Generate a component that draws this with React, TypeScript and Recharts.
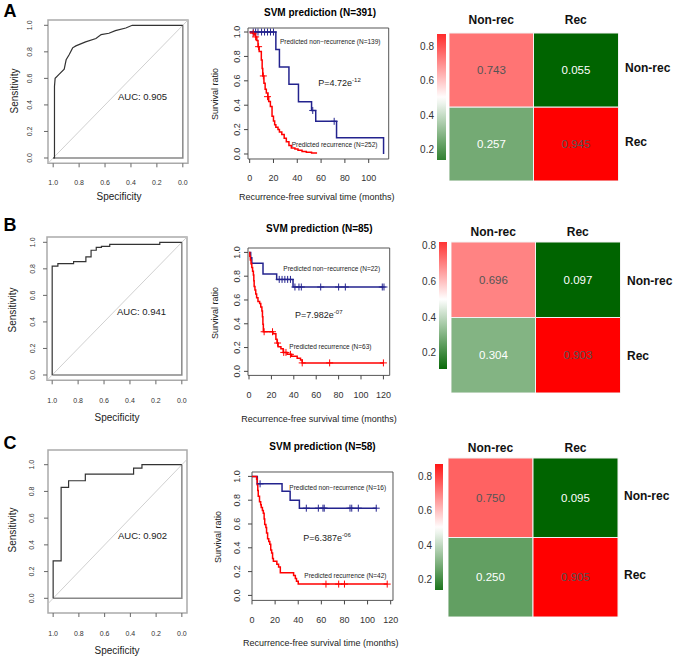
import React from "react";
import {
  ComposedChart, Line, Scatter, XAxis, YAxis, ReferenceArea, ReferenceLine,
  BarChart, Bar, Cell, LabelList,
} from "recharts";

const FONT = '"Liberation Sans", Arial, Helvetica, sans-serif';
const NAVY = "#23238e";
const RED = "#ff0000";

// ROC curves, [specificity, sensitivity]
const rocA: [number, number][] = [
  [1, 0], [0.99, 0], [0.99, 0.54], [0.985, 0.6], [0.955, 0.63], [0.915, 0.67], [0.9, 0.74],
  [0.876, 0.78], [0.85, 0.83], [0.825, 0.845], [0.75, 0.875], [0.67, 0.9], [0.63, 0.93],
  [0.57, 0.94], [0.52, 0.96], [0.44, 0.98], [0.39, 1], [0, 1],
];
const rocB: [number, number][] = [
  [1, 0], [1, 0.82], [0.956, 0.82], [0.956, 0.84], [0.835, 0.84], [0.835, 0.855], [0.74, 0.855],
  [0.74, 0.89], [0.7, 0.89], [0.7, 0.94], [0.66, 0.94], [0.66, 0.962], [0.62, 0.962], [0.62, 0.97],
  [0.556, 0.97], [0.556, 0.985], [0.17, 0.985], [0.17, 1], [0, 1],
];
const rocC: [number, number][] = [
  [1, 0], [1, 0.28], [0.938, 0.28], [0.938, 0.83], [0.88, 0.83], [0.88, 0.88], [0.75, 0.88],
  [0.75, 0.93], [0.375, 0.93], [0.375, 0.975], [0.31, 0.975], [0.31, 1], [0, 1],
];
const rocFrame: [number, number][] = [[1, 0], [0, 0], [0, 1]];
const rocTicks = [0, 0.2, 0.4, 0.6, 0.8, 1];
const aucA = "AUC: 0.905";
const aucB = "AUC: 0.941";
const aucC = "AUC: 0.902";

// Kaplan-Meier curves, [months, survival]
const kmA_non: [number, number][] = [
  [0, 1], [22, 0.857], [25, 0.714], [33, 0.571], [41, 0.429], [52, 0.357], [55.5, 0.268], [73, 0.134], [112.5, 0],
];
const kmA_rec: [number, number][] = [
  [0, 1], [2.8, 0.99], [4, 0.975], [5, 0.96], [6, 0.93], [7, 0.88], [8, 0.84], [9.8, 0.77], [10.5, 0.7],
  [11, 0.64], [12, 0.58], [13, 0.53], [14, 0.5], [15.4, 0.47], [16, 0.43], [17.4, 0.39], [18.8, 0.31],
  [20, 0.27], [21, 0.24], [22, 0.22], [23.8, 0.2], [25, 0.18], [27, 0.16], [29, 0.13], [30.8, 0.1],
  [33, 0.07], [35, 0.05], [38, 0.04], [40.6, 0.03], [44, 0.02], [47.6, 0.014], [52, 0.008], [56, 0.003],
];
const censA_non: [number, number][] = [
  [3, 1], [5, 1], [7, 1], [10, 1], [12.5, 1], [15, 1], [17.5, 1], [20, 1], [53, 0.357], [71, 0.268],
];
const censA_rec: [number, number][] = [[3, 0.99], [5, 0.96], [7.5, 0.88], [11.5, 0.64], [15, 0.47]];

const kmB_non: [number, number][] = [
  [0, 1], [1.5, 0.955], [2.5, 0.909], [12.5, 0.818], [24.7, 0.773], [39.3, 0.709], [120, 0.709],
];
const kmB_rec: [number, number][] = [
  [0, 1], [0.7, 0.968], [1.2, 0.937], [1.8, 0.905], [2.5, 0.873], [3.2, 0.841], [3.9, 0.81], [4.3, 0.762],
  [4.6, 0.714], [5.3, 0.683], [6, 0.651], [6.8, 0.619], [8, 0.587], [9.5, 0.571], [10.5, 0.54], [11.5, 0.508],
  [12, 0.46], [12.4, 0.397], [12.8, 0.333], [21.4, 0.317], [24, 0.27], [25, 0.238], [26, 0.206], [28.5, 0.19],
  [30.5, 0.159], [34, 0.143], [38, 0.127], [43, 0.111], [46, 0.095], [47.5, 0.071], [120, 0.071],
];
const censB_non: [number, number][] = [
  [27, 0.773], [29.5, 0.773], [32, 0.773], [34.5, 0.773], [37, 0.773], [41, 0.709], [44.6, 0.709],
  [46.7, 0.709], [64, 0.709], [80, 0.709], [86, 0.709], [119, 0.709], [120.5, 0.709],
];
const censB_rec: [number, number][] = [
  [13.5, 0.333], [21, 0.333], [25.5, 0.238], [31, 0.159], [33, 0.159], [37, 0.143], [47.5, 0.071], [72, 0.071], [120, 0.071],
];

const kmC_non: [number, number][] = [
  [0, 1], [4.6, 0.9375], [26, 0.875], [33, 0.8], [41, 0.733], [108, 0.733],
];
const kmC_rec: [number, number][] = [
  [0, 1], [4, 0.976], [4.5, 0.929], [5, 0.881], [5.4, 0.833], [6.5, 0.786], [7.5, 0.762], [8, 0.738],
  [9, 0.714], [9.8, 0.69], [10.5, 0.643], [11, 0.595], [12, 0.571], [12.6, 0.524], [13.5, 0.476],
  [14.5, 0.452], [15.4, 0.429], [16.2, 0.381], [17, 0.357], [17.8, 0.31], [18.5, 0.286], [21.5, 0.262],
  [23, 0.238], [24.5, 0.19], [36, 0.167], [37.5, 0.143], [38.5, 0.119], [40, 0.095], [117, 0.095],
];
const censC_non: [number, number][] = [
  [7, 0.9375], [47, 0.733], [57.4, 0.733], [61.4, 0.733], [62.5, 0.733], [84.8, 0.733], [86.3, 0.733], [92, 0.733], [107.5, 0.733],
];
const censC_rec: [number, number][] = [[64, 0.095], [75, 0.095], [80, 0.095], [117, 0.095]];

const kmTicksY = [0, 0.2, 0.4, 0.6, 0.8, 1];
const kmTicksA = [0, 20, 40, 60, 80, 100];
const kmTicksBC = [0, 20, 40, 60, 80, 100, 120];

// confusion matrices (columns: true class, rows: predicted class)
const hmCols = ["Non-rec", "Rec"];
const hmRows = ["Non-rec", "Rec"];
const hmA_top = [0.743, 0.055];
const hmA_bot = [0.257, 0.945];
const hmB_top = [0.696, 0.097];
const hmB_bot = [0.304, 0.903];
const hmC_top = [0.75, 0.095];
const hmC_bot = [0.25, 0.905];
const cbTicks = [0.2, 0.4, 0.6, 0.8];
const cbA = [0.14, 0.87];
const cbB = [0.11, 0.82];
const cbC = [0.14, 0.87];

const toRoc = (a: [number, number][]) => a.map(([spec, sens]) => ({ spec, sens }));
const toKm = (a: [number, number][]) => a.map(([t, s]) => ({ t, s }));

function heatColor(v: number, lo: number, hi: number) {
  const mix = (a: number[], b: number[], t: number) => {
    const k = Math.max(0, Math.min(1, t));
    const c = a.map((x, i) => Math.round(x + (b[i] - x) * k));
    return `rgb(${c[0]},${c[1]},${c[2]})`;
  };
  if (v >= 0.5) return mix([255, 255, 255], [255, 0, 0], (v - 0.5) / (hi - 0.5));
  return mix([255, 255, 255], [0, 100, 0], (0.5 - v) / (0.5 - lo));
}

type Box = { l: number; t: number; r: number; b: number };
const PAD = 12; // room above / right of each plot so edge labels are not clipped

function Txt({ x, y, size, bold, rotate, anchor = "middle", color = "#222", children }: any) {
  const tx = anchor === "middle" ? "-50%" : anchor === "start" ? "0" : "-100%";
  return (
    <div
      style={{
        position: "absolute", left: x, top: y, whiteSpace: "nowrap", lineHeight: 1,
        transform: `translate(${tx},-50%)${rotate ? " rotate(-90deg)" : ""}`,
        fontFamily: FONT, fontSize: size, fontWeight: bold ? "bold" : "normal", color,
      }}
    >
      {children}
    </div>
  );
}

// tick renderers, gap = distance from plot edge to label centre
const xTick = (gap: number, fs: number, digits: number) => (p: any) => (
  <text x={p.x} y={p.y - 6 + gap} dy="0.35em" textAnchor="middle" fontSize={fs} fill="#333" fontFamily={FONT}>
    {Number(p.payload.value).toFixed(digits)}
  </text>
);
const yTick = (gap: number, fs: number) => (p: any) => {
  const cx = p.x + 6 - gap;
  return (
    <text x={cx} y={p.y} dy="0.35em" transform={`rotate(-90 ${cx} ${p.y})`} textAnchor="middle" fontSize={fs} fill="#333" fontFamily={FONT}>
      {Number(p.payload.value).toFixed(1)}
    </text>
  );
};

const plus = (color: string) => (p: any) => (
  <path d={`M${p.cx - 3.5},${p.cy}H${p.cx + 3.5}M${p.cx},${p.cy - 3.5}V${p.cy + 3.5}`} stroke={color} strokeWidth={1} fill="none" />
);

function RocPanel({ box, curve, yDom, gx, gy }: { box: Box; curve: [number, number][]; yDom: number[]; gx: number; gy: number }) {
  const YW = 40, XH = 40;
  return (
    <div style={{ position: "absolute", left: box.l - YW, top: box.t - PAD }}>
      <ComposedChart width={box.r - box.l + YW + PAD} height={box.b - box.t + XH + PAD}
        margin={{ top: PAD, right: PAD, bottom: 0, left: 0 }}>
        <XAxis type="number" dataKey="spec" domain={[-0.04, 1.04]} reversed ticks={rocTicks} height={XH} interval={0}
          axisLine={false} tickSize={4} tickMargin={2} tickLine={{ stroke: "#666" }} tick={xTick(gx, 7, 1)} allowDataOverflow />
        <YAxis type="number" domain={yDom} ticks={rocTicks} width={YW} interval={0}
          axisLine={false} tickSize={4} tickMargin={2} tickLine={{ stroke: "#666" }} tick={yTick(gy, 7)} allowDataOverflow />
        <ReferenceArea x1={-0.04} x2={1.04} y1={yDom[0]} y2={yDom[1]} fill="none" fillOpacity={0} stroke="#aaa" strokeWidth={1.5} />
        <ReferenceLine segment={[{ x: 1.04, y: -0.04 }, { x: -0.04, y: 1.04 }]} stroke="#c4c4c4" strokeWidth={0.8} />
        <Line data={toRoc(rocFrame)} dataKey="sens" stroke="#888" strokeWidth={1.5} dot={false} isAnimationActive={false} />
        <Line data={toRoc(curve)} dataKey="sens" stroke="#333" strokeWidth={1.2} dot={false} isAnimationActive={false} />
      </ComposedChart>
    </div>
  );
}

function KmPanel({ box, xDom, yDom, xTicks, non, rec, cNon, cRec, gx, gy }: any) {
  const YW = 30, XH = 30;
  return (
    <div style={{ position: "absolute", left: box.l - YW, top: box.t - PAD }}>
      <ComposedChart width={box.r - box.l + YW + PAD} height={box.b - box.t + XH + PAD}
        margin={{ top: PAD, right: PAD, bottom: 0, left: 0 }}>
        <XAxis type="number" dataKey="t" domain={xDom} ticks={xTicks} height={XH} interval={0}
          axisLine={false} tickSize={4} tickMargin={2} tickLine={{ stroke: "#444" }} tick={xTick(gx, 9, 0)} allowDataOverflow />
        <YAxis type="number" domain={yDom} ticks={kmTicksY} width={YW} interval={0}
          axisLine={false} tickSize={4} tickMargin={2} tickLine={{ stroke: "#444" }} tick={yTick(gy, 9)} allowDataOverflow />
        <ReferenceArea x1={xDom[0]} x2={xDom[1]} y1={yDom[0]} y2={yDom[1]} fill="none" fillOpacity={0} stroke="#555" strokeWidth={1} />
        <Line data={toKm(non)} dataKey="s" type="stepAfter" stroke={NAVY} strokeWidth={1.5} dot={false} isAnimationActive={false} />
        <Line data={toKm(rec)} dataKey="s" type="stepAfter" stroke={RED} strokeWidth={1.5} dot={false} isAnimationActive={false} />
        <Scatter data={toKm(cNon)} dataKey="s" shape={plus(NAVY)} isAnimationActive={false} />
        <Scatter data={toKm(cRec)} dataKey="s" shape={plus(RED)} isAnimationActive={false} />
      </ComposedChart>
    </div>
  );
}

function HeatPanel({ grid, top, bot, colGap, rowX, rowDy, cb, cbDom, id }: any) {
  const all = [...top, ...bot];
  const lo = Math.min(...all), hi = Math.max(...all);
  const data = hmCols.map((c, i) => ({ col: c, top: top[i], bot: bot[i] }));
  const XH = 30, YW = 60, CW = 30;
  const cellLabel = (p: any) => (
    <text x={p.x + p.width / 2} y={p.y + p.height / 2} dy="0.35em" textAnchor="middle" fontSize={11.5}
      fontFamily={FONT} fill={p.value < 0.5 ? "#fff" : "#555"}>
      {Number(p.value).toFixed(3)}
    </text>
  );
  const colTick = (p: any) => (
    <text x={p.x} y={p.y - colGap} dy="0.35em" textAnchor="middle" fontSize={12} fontWeight="bold" fontFamily={FONT} fill="#111">
      {p.payload.value}
    </text>
  );
  const rowTick = (p: any) => (
    <text x={p.x + rowX} y={p.y + rowDy} dy="0.35em" textAnchor="start" fontSize={12} fontWeight="bold" fontFamily={FONT} fill="#111">
      {p.payload.value > 1 ? hmRows[0] : hmRows[1]}
    </text>
  );
  const stops = Array.from({ length: 21 }, (_, i) => {
    const v = cbDom[1] - (i / 20) * (cbDom[1] - cbDom[0]);
    return <stop key={i} offset={i / 20} stopColor={heatColor(v, lo, hi)} />;
  });
  return (
    <>
      <div style={{ position: "absolute", left: grid.l, top: grid.t - XH }}>
        <BarChart width={grid.r - grid.l + YW} height={grid.b - grid.t + XH} data={data}
          margin={{ top: 0, right: 0, bottom: 0, left: 0 }} barCategoryGap={0} barGap={0}>
          <XAxis dataKey="col" orientation="top" height={XH} axisLine={false} tickLine={false} tickSize={0} tickMargin={0} tick={colTick} interval={0} />
          <YAxis orientation="right" type="number" domain={[0, 2]} ticks={[0.5, 1.5]} width={YW} interval={0}
            axisLine={false} tickLine={false} tickSize={0} tickMargin={0} tick={rowTick} />
          <Bar dataKey={() => 1} stackId="m" isAnimationActive={false} stroke="#f2f2f2" strokeWidth={1}>
            {data.map((d, i) => <Cell key={i} fill={heatColor(d.bot, lo, hi)} />)}
            <LabelList dataKey="bot" content={cellLabel} />
          </Bar>
          <Bar dataKey={() => 1} stackId="m" isAnimationActive={false} stroke="#f2f2f2" strokeWidth={1}>
            {data.map((d, i) => <Cell key={i} fill={heatColor(d.top, lo, hi)} />)}
            <LabelList dataKey="top" content={cellLabel} />
          </Bar>
        </BarChart>
      </div>
      <div style={{ position: "absolute", left: cb.l - CW, top: cb.t - PAD }}>
        <BarChart width={cb.r - cb.l + CW} height={cb.b - cb.t + 2 * PAD} data={[{ name: "scale", range: cbDom }]}
          margin={{ top: PAD, right: 0, bottom: PAD, left: 0 }} barCategoryGap={0}>
          <defs>
            <linearGradient id={id} x1="0" y1="0" x2="0" y2="1">{stops}</linearGradient>
          </defs>
          <XAxis dataKey="name" hide />
          <YAxis type="number" domain={cbDom} ticks={cbTicks} width={CW} axisLine={false} tickLine={false} interval={0}
            tickSize={0} tickMargin={3} tick={{ fontSize: 10, fill: "#333", fontFamily: FONT }} allowDataOverflow />
          <Bar dataKey="range" fill={`url(#${id})`} isAnimationActive={false} />
        </BarChart>
      </div>
    </>
  );
}

const Pval = ({ base, exp }: { base: string; exp: string }) => (
  <span>
    P={base}e<span style={{ fontSize: 6, position: "relative", top: -4 }}>{exp}</span>
  </span>
);

export default function App() {
  const xl = "Recurrence-free survival time (months)";
  return (
    <div style={{ position: "absolute", left: 0, top: 0, width: 677, height: 659, background: "#fff", overflow: "hidden" }}>
      {/* Row A */}
      <Txt x={10} y={11} size={18} bold color="#000">A</Txt>
      <RocPanel box={{ l: 48.3, t: 20, r: 188.3, b: 163.3 }} curve={rocA} yDom={[-0.04, 1.04]} gx={19.7} gy={18.3} />
      <Txt x={118} y={97} size={9.5} anchor="start">{aucA}</Txt>
      <Txt x={119} y={197} size={10}>Specificity</Txt>
      <Txt x={15} y={91} size={10} rotate>Sensitivity</Txt>

      <Txt x={320} y={13} size={10} bold color="#000">SVM prediction (N=391)</Txt>
      <KmPanel box={{ l: 248.3, t: 28.3, r: 389, b: 159.3 }} xDom={[-1.4, 116.8]} yDom={[-0.041, 1.033]} xTicks={kmTicksA}
        non={kmA_non} rec={kmA_rec} cNon={censA_non} cRec={censA_rec} gx={18.7} gy={11.3} />
      <Txt x={280} y={42.3} size={6.5} anchor="start">Predicted non{"\u2212"}recurrence (N=139)</Txt>
      <Txt x={318.3} y={83.3} size={9} anchor="start"><Pval base="4.72" exp="-12" /></Txt>
      <Txt x={291.7} y={145} size={6.5} anchor="start">Predicted recurrence (N=252)</Txt>
      <Txt x={316.7} y={196.7} size={9}>{xl}</Txt>
      <Txt x={215} y={94} size={9} rotate>Survival ratio</Txt>

      <HeatPanel grid={{ l: 449, t: 33, r: 618, b: 181 }} top={hmA_top} bot={hmA_bot} colGap={13} rowX={7} rowDy={-2}
        cb={{ l: 437, t: 34, r: 446, b: 160 }} cbDom={cbA} id="cbA" />

      {/* Row B */}
      <Txt x={10} y={225} size={18} bold color="#000">B</Txt>
      <RocPanel box={{ l: 46.7, t: 236.7, r: 186.7, b: 380 }} curve={rocB} yDom={[-0.04, 1.04]} gx={20.7} gy={14.7} />
      <Txt x={117} y={312} size={9.5} anchor="start">{aucB}</Txt>
      <Txt x={117} y={418} size={10}>Specificity</Txt>
      <Txt x={13} y={310} size={10} rotate>Sensitivity</Txt>

      <Txt x={319.3} y={229.3} size={10} bold color="#000">SVM prediction (N=85)</Txt>
      <KmPanel box={{ l: 248.3, t: 248.3, r: 390, b: 375.7 }} xDom={[-0.9, 125.6]} yDom={[-0.034, 1.037]} xTicks={kmTicksBC}
        non={kmB_non} rec={kmB_rec} cNon={censB_non} cRec={censB_rec} gx={19.3} gy={11.6} />
      <Txt x={283.3} y={269.3} size={6.5} anchor="start">Predicted non{"\u2212"}recurrence (N=22)</Txt>
      <Txt x={295} y={315.3} size={9} anchor="start"><Pval base="7.982" exp="-07" /></Txt>
      <Txt x={289.3} y={346.7} size={6.5} anchor="start">Predicted recurrence (N=63)</Txt>
      <Txt x={319} y={419.3} size={9}>{xl}</Txt>
      <Txt x={215} y={313} size={9} rotate>Survival ratio</Txt>

      <HeatPanel grid={{ l: 451, t: 242, r: 620, b: 393 }} top={hmB_top} bot={hmB_bot} colGap={10} rowX={7} rowDy={1}
        cb={{ l: 439, t: 242, r: 447, b: 369 }} cbDom={cbB} id="cbB" />

      {/* Row C */}
      <Txt x={10} y={443} size={18} bold color="#000">C</Txt>
      <RocPanel box={{ l: 47.7, t: 450, r: 186.7, b: 613 }} curve={rocC} yDom={[-0.11, 1.11]} gx={21} gy={16} />
      <Txt x={118} y={536} size={9.5} anchor="start">{aucC}</Txt>
      <Txt x={117} y={650.7} size={10}>Specificity</Txt>
      <Txt x={13} y={530} size={10} rotate>Sensitivity</Txt>

      <Txt x={322.5} y={447.3} size={10} bold color="#000">SVM prediction (N=58)</Txt>
      <KmPanel box={{ l: 252.3, t: 472.3, r: 393.3, b: 600.7 }} xDom={[0, 122]} yDom={[-0.042, 1.037]} xTicks={kmTicksBC}
        non={kmC_non} rec={kmC_rec} cNon={censC_non} cRec={censC_rec} gx={19.3} gy={15.6} />
      <Txt x={289.3} y={488.3} size={6.5} anchor="start">Predicted non{"\u2212"}recurrence (N=16)</Txt>
      <Txt x={303.3} y={538.3} size={9} anchor="start"><Pval base="6.387" exp="-06" /></Txt>
      <Txt x={304.3} y={575.7} size={6.5} anchor="start">Predicted recurrence (N=42)</Txt>
      <Txt x={320.8} y={643.3} size={9}>{xl}</Txt>
      <Txt x={217.7} y={536.7} size={9} rotate>Survival ratio</Txt>

      <HeatPanel grid={{ l: 448, t: 458, r: 618, b: 617 }} top={hmC_top} bot={hmC_bot} colGap={10} rowX={6} rowDy={-2}
        cb={{ l: 435, t: 464, r: 443, b: 590 }} cbDom={cbC} id="cbC" />
    </div>
  );
}
